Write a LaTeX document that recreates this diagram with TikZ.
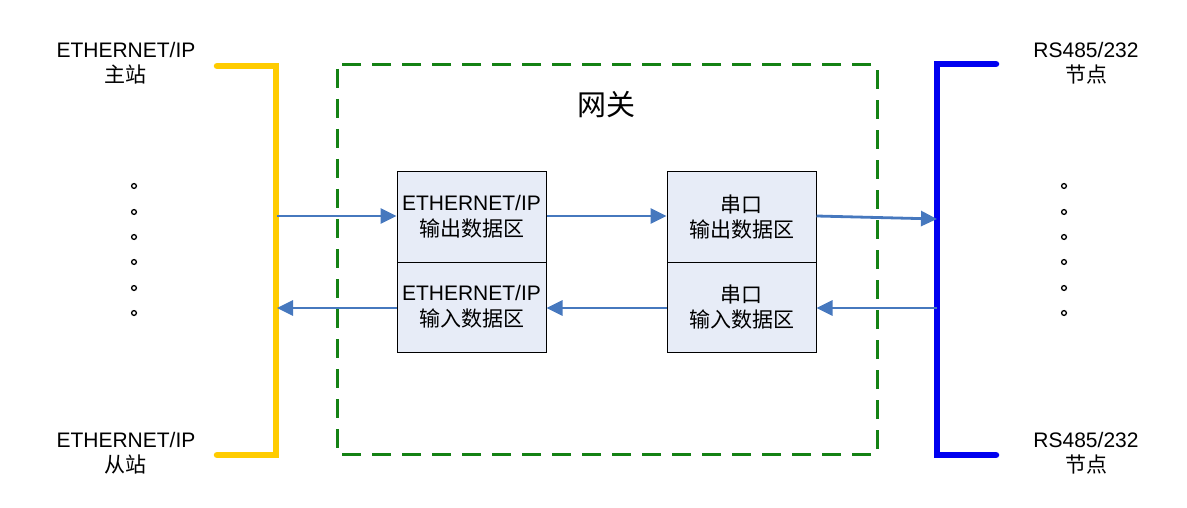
\documentclass[tikz,border=0pt]{standalone}
\usepackage{fontspec}
\setmainfont{Liberation Sans}
\newfontfamily\cjk{Noto Sans CJK SC}
\usetikzlibrary{arrows.meta}
\definecolor{arrowblue}{RGB}{70,120,190}
\definecolor{boxfill}{RGB}{231,236,247}
\definecolor{ygold}{RGB}{255,204,0}
\definecolor{gdash}{RGB}{20,130,20}
\definecolor{bbar}{RGB}{0,0,240}
\begin{document}
\begin{tikzpicture}[x=1pt,y=-1pt,
  txt/.style={font=\fontsize{21}{25.5}\selectfont, align=center, text=black, inner sep=0pt},
  databox/.style={draw=black, line width=1pt, fill=boxfill, minimum width=149pt, minimum height=90pt,
    font=\fontsize{21}{25.5}\selectfont, align=center, inner sep=0pt},
  arr/.style={draw=arrowblue, line width=2.8pt, -{Triangle[length=16pt,width=15pt]}},
  dot/.style={draw=black, line width=1.3pt, circle, inner sep=0pt, minimum size=4.8pt},
  bracket/.style={line width=6.5pt, line cap=round, line join=miter}
]
\useasboundingbox (0,0) rectangle (1187,508);

% brackets
\draw[bracket, ygold] (217,66) -- (276,66) -- (276,455) -- (217,455);
\draw[bracket, bbar] (996,64) -- (937,64) -- (937,455) -- (996,455);

% dashed gateway frame
\draw[gdash, line width=3pt, dash pattern=on 19pt off 11pt, dash phase=-4pt] (337,65) rectangle (877,454);
\node[txt, font=\fontsize{29}{32}\selectfont\cjk] (gw) at (606,105) {网关};

% labels
\node[txt] (m) at (126,63) {ETHERNET/IP\\{\cjk 主站}};
\node[txt] (s) at (126,453) {ETHERNET/IP\\{\cjk 从站}};
\node[txt] (n1) at (1086,63) {RS485/232\\{\cjk 节点}};
\node[txt] (n2) at (1086,453) {RS485/232\\{\cjk 节点}};

% dots
\foreach \i/\yy in {1/186,2/212,3/237,4/262,5/288,6/313}{
  \node[dot] (dl\i) at (134,\yy) {};
  \node[dot] (dr\i) at (1064,\yy) {};
}

% data boxes
\node[databox] (eo) at (471.5,217) {ETHERNET/IP\\{\cjk 输出数据区}};
\node[databox] (ei) at (471.5,307) {ETHERNET/IP\\{\cjk 输入数据区}};
\node[databox] (so) at (741.5,217) {{\cjk 串口}\\{\cjk 输出数据区}};
\node[databox] (si) at (741.5,307) {{\cjk 串口}\\{\cjk 输入数据区}};

% bus coordinates
\coordinate (ya) at (277,216);
\coordinate (yb) at (277,308);
\coordinate (ba) at (937,219);
\coordinate (bb) at (937,308);

% arrows
\draw[arr] (ya) -- (eo.west |- ya);
\draw[arr] (eo.east |- 0,216) -- (so.west |- 0,216);
\draw[arr] (so.east |- 0,216) -- (ba);
\draw[arr] (bb) -- (si.east |- bb);
\draw[arr] (si.west |- 0,308) -- (ei.east |- 0,308);
\draw[arr] (ei.west |- 0,308) -- (yb);
\end{tikzpicture}
\end{document}
